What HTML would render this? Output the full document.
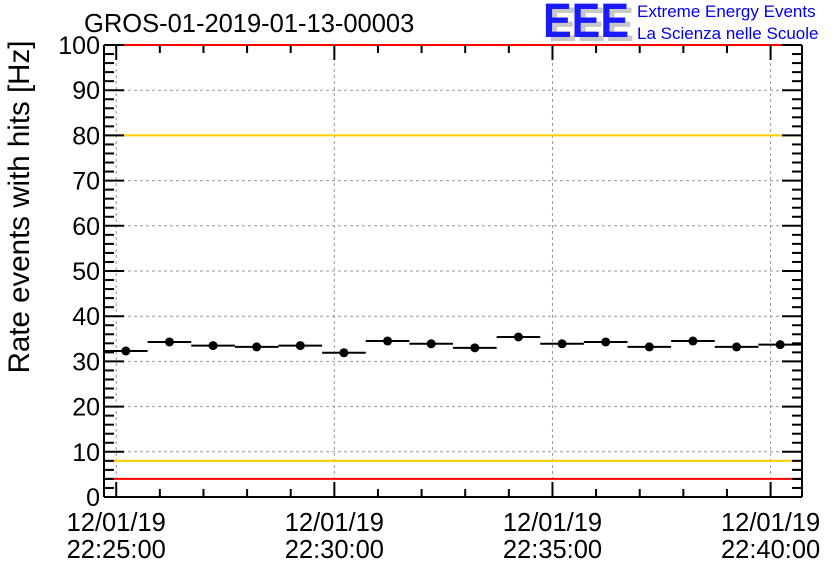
<!DOCTYPE html>
<html><head><meta charset="utf-8"><style>
body{margin:0;background:#fff;}
svg{display:block;font-family:"Liberation Sans",sans-serif;}
</style></head><body>
<svg id="chart" width="836" height="572" xmlns="http://www.w3.org/2000/svg">
<rect width="836" height="572" fill="#fff"/>
<text x="84" y="32" font-size="25.5">GROS-01-2019-01-13-00003</text>
<g>
<text x="548" y="41" font-size="48" font-weight="bold" fill="#c8c8c8" textLength="86" lengthAdjust="spacingAndGlyphs">EEE</text>
<text x="543" y="37" font-size="48" font-weight="bold" fill="#1a1aff" textLength="86" lengthAdjust="spacingAndGlyphs">EEE</text>
<text x="637" y="17" font-size="17" fill="#0000ee">Extreme Energy Events</text>
<text x="637" y="39" font-size="17" fill="#0000ee">La Scienza nelle Scuole</text>
</g>
<text transform="translate(29,207) rotate(-90)" text-anchor="middle" font-size="29.5">Rate events with hits [Hz]</text>
<g id="grid"></g><g id="axes"></g><g id="marks"></g>
</svg>
<script>
const yTicks=[0,10,20,30,40,50,60,70,80,90,100];
const xTickLabels=[["12/01/19","22:25:00"],["12/01/19","22:30:00"],["12/01/19","22:35:00"],["12/01/19","22:40:00"]];
const xTickMinutes=[0,5,10,15];
const binStartMin=-0.28;
const rates=[32.3,34.3,33.5,33.2,33.5,31.9,34.5,33.9,33.0,35.4,33.9,34.3,33.2,34.5,33.2,33.7];
const yellowLevels=[80,8];
const redLevels=[4,100];

const NS="http://www.w3.org/2000/svg";
const L=104,R=802,T=45,B=497;
const pxPerMin=(R-L)/16;
const X=m=>L+(m-binStartMin)*pxPerMin;
const Y=v=>B-(v/100)*(B-T);
function el(parent,tag,attrs){const e=document.createElementNS(NS,tag);for(const k in attrs)e.setAttribute(k,attrs[k]);document.getElementById(parent).appendChild(e);return e;}
yTicks.forEach(v=>{if(v>0&&v<100){const g=el('grid','line',{x1:L,x2:R,y1:Y(v),y2:Y(v),stroke:'#999','stroke-dasharray':'3,3'});

}});
xTickMinutes.forEach(m=>{const g=el('grid','line',{x1:X(m),x2:X(m),y1:T,y2:B,stroke:'#999','stroke-dasharray':'3,3'});

});
yellowLevels.forEach(v=>{const l=el('grid','line',{x1:L,x2:R,y1:Y(v),y2:Y(v),stroke:'#ffcc00','stroke-width':2});

});
redLevels.forEach(v=>{const l=el('grid','line',{x1:L,x2:R,y1:Y(v),y2:Y(v),stroke:'#ff0000','stroke-width':2});

});
el('axes','line',{x1:L,x2:L,y1:T,y2:B,stroke:'#000','stroke-width':2});
el('axes','line',{x1:L,x2:R,y1:B,y2:B,stroke:'#000','stroke-width':2});
el('axes','line',{x1:R,x2:R,y1:T,y2:B,stroke:'#000','stroke-width':2});
for(let v=0;v<=100;v+=2){const maj=v%10===0;const len=maj?20:10;
el('axes','line',{x1:L,x2:L+len,y1:Y(v),y2:Y(v),stroke:'#000','stroke-width':2});
el('axes','line',{x1:R,x2:R-len,y1:Y(v),y2:Y(v),stroke:'#000','stroke-width':2});}
yTicks.forEach(v=>{const t=el('axes','text',{x:L-4,y:Y(v)+9,'text-anchor':'end','font-size':25});t.textContent=v;

});
for(let m=0;m<=16;m++){const x=X(m);if(x>R)break;const maj=m%5===0;const len=maj?15:8;
el('axes','line',{x1:x,x2:x,y1:B,y2:B-len,stroke:'#000','stroke-width':2});
el('axes','line',{x1:x,x2:x,y1:T,y2:T+len,stroke:'#000','stroke-width':2});}
xTickMinutes.forEach((m,i)=>{const x=X(m);
const a=el('axes','text',{x:x,y:531,'text-anchor':'middle','font-size':25.5});a.textContent=xTickLabels[i][0];


const b=el('axes','text',{x:x,y:558,'text-anchor':'middle','font-size':25.5});b.textContent=xTickLabels[i][1];

});
rates.forEach((v,i)=>{const x0=X(binStartMin+i),x1=X(binStartMin+i+1),y=Y(v);
const h=el('marks','line',{x1:x0,x2:x1,y1:y,y2:y,stroke:'#000','stroke-width':2});


const c=el('marks','circle',{cx:(x0+x1)/2,cy:y,r:4.5,fill:'#000'});

});
</script>
</body></html>
